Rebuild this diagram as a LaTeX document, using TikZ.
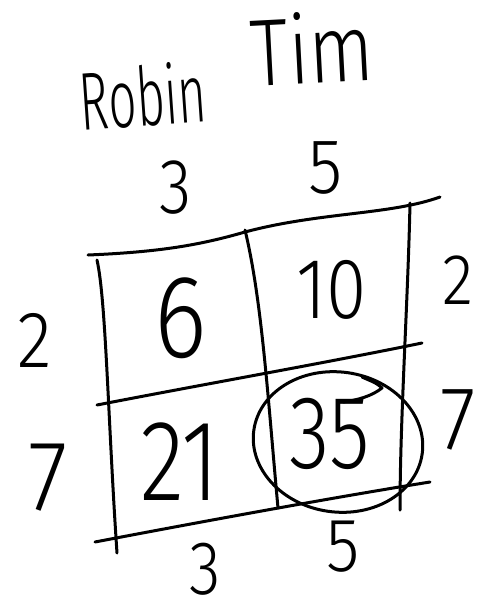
\documentclass[tikz,border=0pt]{standalone}
\usepackage{fontspec}
\setmainfont{Fira Sans}[UprightFont={* Light}]
\begin{document}
\begin{tikzpicture}[x=1pt,y=-1pt,
  pen/.style={line width=3pt,line cap=round,line join=round,black},
  lbl/.style={inner sep=0pt,anchor=center},
  fs/.style={font=\fontsize{#1}{#1}\selectfont}]
\useasboundingbox[fill=white] (0,0) rectangle (481,610);
% grid corner coordinates
\coordinate (T1) at (88,255);
\coordinate (T2) at (440,197);
\coordinate (M1) at (97,405);
\coordinate (M2) at (422,343);
\coordinate (B1) at (95,542);
\coordinate (B2) at (430,482);
\coordinate (L1) at (97,260);
\coordinate (L2) at (117,553);
\coordinate (V1) at (245,230);
\coordinate (V2) at (278,508);
\coordinate (R1) at (410,203);
\coordinate (R2) at (400,510);
% horizontal lines
\draw[pen] (T1) .. controls (160,252) and (200,245) .. (245,232) .. controls (320,212) and (390,215) .. (T2);
\draw[pen] (M1) .. controls (200,385) and (330,362) .. (M2);
\draw[pen] (B1) .. controls (200,522) and (330,498) .. (B2);
% vertical lines
\draw[pen] (L1) .. controls (106,300) and (108,420) .. (L2);
\draw[pen] (V1) .. controls (262,300) and (268,400) .. (V2);
\draw[pen] (R1) .. controls (408,300) and (400,420) .. (R2);
% circle around 35
\draw[pen] (338,442) ellipse [x radius=85, y radius=70, rotate=-8];
\draw[pen] (362,377) .. controls (368,380) and (376,382) .. (382,388) .. controls (372,396) and (358,400) .. (343,402);
% labels
\node[lbl,fs=82,rotate=4,xscale=0.6] (robin) at (143,96) {Robin};
\node[lbl,fs=95,rotate=3,xscale=0.8] (tim) at (312,48) {Tim};
\node[lbl,fs=78,xscale=0.85] (t3) at (176,188) {3};
\node[lbl,fs=78,xscale=0.9] (t5) at (326,168) {5};
\node[lbl,fs=80,xscale=0.9] (l2) at (35,340) {2};
\node[lbl,fs=100,xscale=0.9] (l7) at (48,478) {7};
\node[lbl,fs=72,xscale=0.9] (r2) at (458,280) {2};
\node[lbl,fs=90,xscale=0.9] (r7) at (458,420) {7};
\node[lbl,fs=118,xscale=0.85] (c6) at (181,318) {6};
\node[lbl,fs=86,xscale=0.85] (c10) at (332,290) {10};
\node[lbl,fs=115,xscale=0.8] (c21) at (180,462) {21};
\node[lbl,fs=104,xscale=0.8] (c35) at (330,434) {35};
\node[lbl,fs=76,xscale=0.85] (b3) at (205,569) {3};
\node[lbl,fs=76,xscale=0.9] (b5) at (343,547) {5};
\end{tikzpicture}
\end{document}
